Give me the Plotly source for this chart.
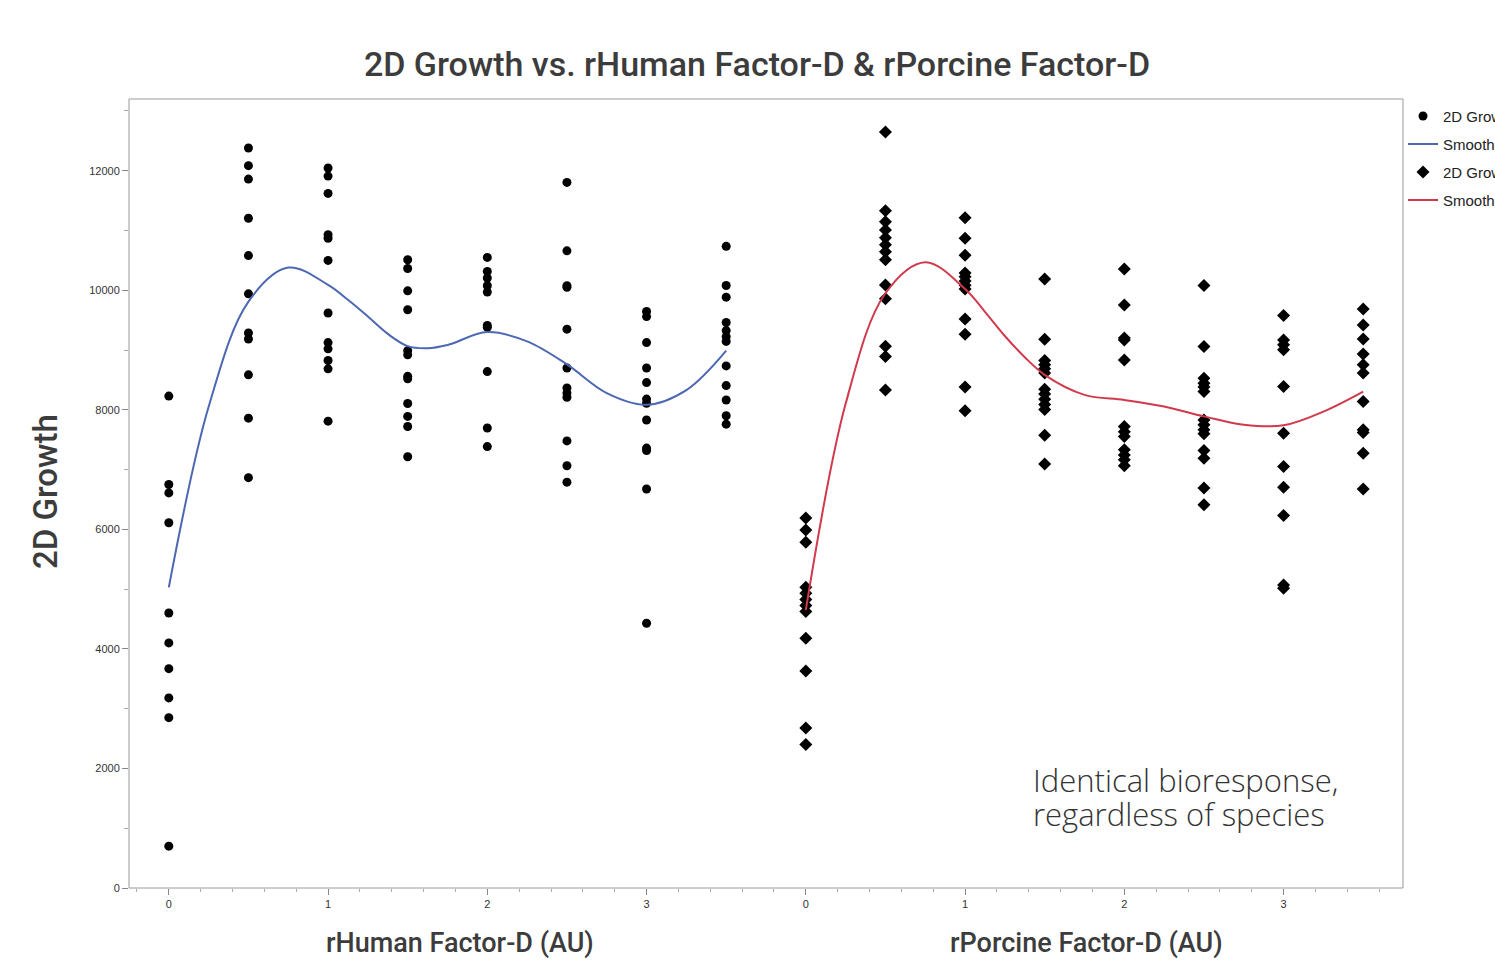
import plotly.graph_objects as go

# ---------------- data ----------------
dose_levels = [0, 0.5, 1, 1.5, 2, 2.5, 3, 3.5]

human_d0 = [8230, 6750, 6610, 6110, 4600, 4100, 3670, 3180, 2850, 700]
human_d05 = [12380, 12085, 11860, 11205, 10580, 9940, 9285, 9185, 8585, 7860, 6865]
human_d1 = [12045, 11910, 11620, 10930, 10870, 10500, 9620, 9125, 9020, 8825, 8685, 7810]
human_d15 = [10510, 10365, 9990, 9675, 8990, 8920, 8560, 8520, 8105, 7890, 7720, 7215]
human_d2 = [10550, 10315, 10205, 10075, 9970, 9410, 9380, 8640, 7695, 7385]
human_d25 = [11805, 10660, 10075, 10050, 9350, 8700, 8365, 8280, 8210, 7480, 7065, 6790]
human_d3 = [9645, 9560, 9125, 8700, 8455, 8180, 8110, 7830, 7360, 7320, 6675, 4430]
human_d35 = [10735, 10080, 9885, 9460, 9325, 9225, 9145, 8735, 8405, 8165, 7900, 7760]

porcine_d0 = [6190, 5990, 5785, 5030, 4930, 4825, 4725, 4625, 4180, 3630, 2675, 2400]
porcine_d05 = [12650, 11330, 11145, 11010, 10880, 10760, 10645, 10510, 10090, 9860, 9065, 8890, 8330]
porcine_d1 = [11215, 10870, 10585, 10290, 10225, 10155, 10085, 10020, 9520, 9265, 8380, 7985]
porcine_d15 = [10190, 9180, 8825, 8755, 8685, 8615, 8345, 8265, 8175, 8090, 8005, 7575, 7095]
porcine_d2 = [10355, 9755, 9200, 9170, 8835, 7720, 7635, 7555, 7330, 7245, 7165, 7065]
porcine_d25 = [10080, 9060, 8530, 8445, 8380, 8305, 7830, 7750, 7665, 7600, 7320, 7190, 6690, 6410]
porcine_d3 = [9580, 9170, 9090, 9005, 8390, 7610, 7050, 6705, 6230, 5070, 5015]
porcine_d35 = [9685, 9420, 9185, 8935, 8755, 8615, 8140, 7665, 7620, 7275, 6675]

human_smooth_x = [0, 0.25, 0.5, 0.75, 1, 1.125, 1.25, 1.375, 1.5, 1.625, 1.75, 2, 2.25, 2.5, 2.75, 3, 3.25, 3.5]
human_smooth = [5030, 8050, 9810, 10380, 10090, 9840, 9560, 9270, 9065, 9030, 9085, 9300, 9145, 8760, 8280, 8085, 8330, 8990]
porcine_smooth_x = [0, 0.25, 0.5, 0.75, 1, 1.125, 1.25, 1.375, 1.5, 1.75, 2, 2.25, 2.5, 2.75, 3, 3.25, 3.5]
porcine_smooth = [4650, 8100, 9950, 10470, 10020, 9640, 9235, 8880, 8585, 8250, 8165, 8055, 7890, 7750, 7740, 7970, 8305]

x_tick_vals = [0, 1, 2, 3]
y_tick_vals = [0, 2000, 4000, 6000, 8000, 10000, 12000]

human_cols = [human_d0, human_d05, human_d1, human_d15, human_d2, human_d25, human_d3, human_d35]
porcine_cols = [porcine_d0, porcine_d05, porcine_d1, porcine_d15, porcine_d2, porcine_d25, porcine_d3, porcine_d35]


def flatten(cols):
    xs, ys = [], []
    for d, vals in zip(dose_levels, cols):
        xs += [d] * len(vals)
        ys += vals
    return xs, ys


hx, hy = flatten(human_cols)
px_, py_ = flatten(porcine_cols)

FONT = "Liberation Sans, Arial, sans-serif"
HEAD = "Roboto, Liberation Sans, Arial, sans-serif"
LIGHT = "Open Sans, Liberation Sans, Arial, sans-serif"
BLUE = "#4d68b3"
RED = "#d03a4c"

fig = go.Figure()
fig.add_trace(go.Scatter(x=hx, y=hy, mode="markers", name="2D Growth (rHuman)",
                         legendgroup="a",
                         marker=dict(symbol="circle", size=9, color="black"),
                         xaxis="x", yaxis="y"))
fig.add_trace(go.Scatter(x=human_smooth_x, y=human_smooth, mode="lines", name="Smoother (rHuman)",
                         legendgroup="b",
                         line=dict(color=BLUE, width=2, shape="spline", smoothing=1.0),
                         xaxis="x", yaxis="y"))
fig.add_trace(go.Scatter(x=px_, y=py_, mode="markers", name="2D Growth (rPorcine)",
                         legendgroup="c",
                         marker=dict(symbol="diamond", size=10, color="black"),
                         xaxis="x2", yaxis="y"))
fig.add_trace(go.Scatter(x=porcine_smooth_x, y=porcine_smooth, mode="lines", name="Smoother (rPorcine)",
                         legendgroup="d",
                         line=dict(color=RED, width=2, shape="spline", smoothing=1.0),
                         xaxis="x2", yaxis="y"))

xcommon = dict(range=[-0.25, 3.75], tickvals=x_tick_vals, ticks="outside", ticklen=6,
               tickcolor="#888", tickfont=dict(family=FONT, size=11, color="#333"),
               showgrid=False, zeroline=False, showline=False,
               minor=dict(dtick=0.2, tick0=0, ticks="outside", ticklen=3, tickcolor="#aaa"))

fig.update_layout(
    width=1495, height=960,
    margin=dict(l=129, r=92, t=99, b=72, autoexpand=False),
    paper_bgcolor="white", plot_bgcolor="white",
    font=dict(family=FONT, color="#333"),
    title=dict(text="2D Growth vs. rHuman Factor-D & rPorcine Factor-D",
               x=757 / 1495, xanchor="center", y=1 - 64 / 960, yanchor="middle",
               font=dict(family=HEAD, size=34, color="#3c3c3c", weight=500)),
    xaxis=dict(domain=[0, 0.5], anchor="y", **xcommon),
    xaxis2=dict(domain=[0.5, 1], anchor="y", **xcommon),
    yaxis=dict(range=[0, 13200], tickvals=y_tick_vals, tickformat="d", ticks="outside", ticklen=6,
               tickcolor="#888", tickfont=dict(family=FONT, size=11, color="#333"),
               showgrid=False, zeroline=False, showline=False,
               minor=dict(dtick=1000, ticks="outside", ticklen=4, tickcolor="#aaa")),
    legend=dict(x=1.0, xanchor="left", y=0.999, yanchor="top",
                font=dict(family=FONT, size=15, color="#222"),
                tracegroupgap=5.5, bgcolor="rgba(0,0,0,0)"),
    shapes=[dict(type="rect", xref="paper", yref="paper", x0=0, x1=1, y0=0, y1=1,
                 line=dict(color="#9a9a9a", width=1), layer="below")],
    annotations=[
        dict(text="2D Growth", xref="paper", yref="paper", x=(45 - 129) / 1274, y=(888 - 492) / 789,
             textangle=-90, showarrow=False, xanchor="center", yanchor="middle",
             font=dict(family=HEAD, size=33, color="#3c3c3c", weight=500)),
        dict(text="rHuman Factor-D (AU)", xref="paper", yref="paper", x=(460 - 129) / 1274,
             y=-(943 - 888) / 789, showarrow=False, xanchor="center", yanchor="middle",
             font=dict(family=HEAD, size=27, color="#3c3c3c", weight=500)),
        dict(text="rPorcine Factor-D (AU)", xref="paper", yref="paper", x=(1086 - 129) / 1274,
             y=-(943 - 888) / 789, showarrow=False, xanchor="center", yanchor="middle",
             font=dict(family=HEAD, size=27, color="#3c3c3c", weight=500)),
        dict(text="Identical bioresponse,", xref="paper", yref="paper",
             x=(1031 - 129) / 1274, y=(888 - 780) / 789, showarrow=False, xanchor="left",
             yanchor="middle", align="left",
             font=dict(family=LIGHT, size=31, color="#333", weight=300)),
        dict(text="regardless of species", xref="paper", yref="paper",
             x=(1031 - 129) / 1274, y=(888 - 814) / 789, showarrow=False, xanchor="left",
             yanchor="middle", align="left",
             font=dict(family=LIGHT, size=31, color="#333", weight=300)),
    ],
)

fig.write_html("out.html")
